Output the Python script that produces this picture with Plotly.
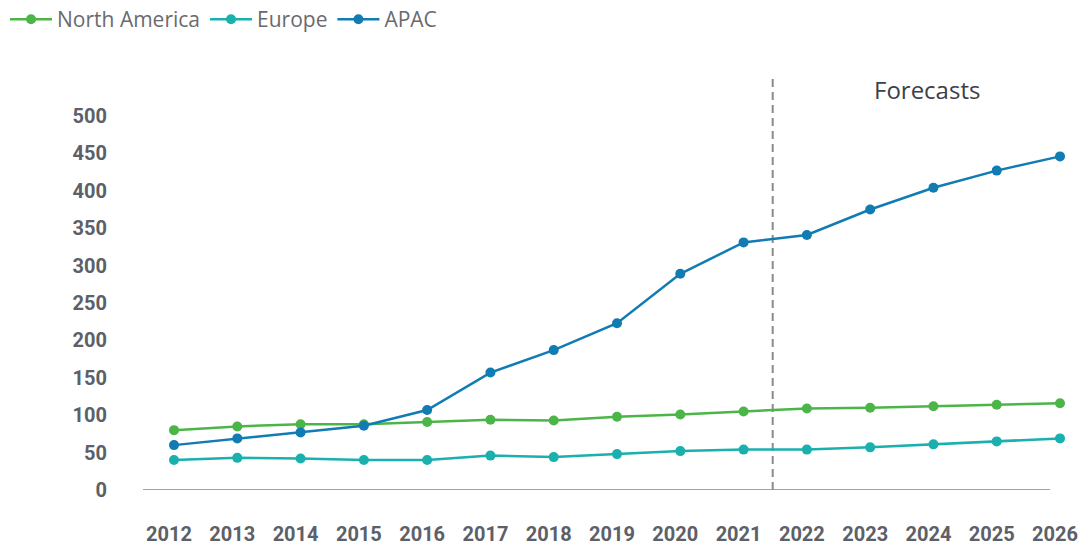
import plotly.graph_objects as go

years = [2012, 2013, 2014, 2015, 2016, 2017, 2018, 2019, 2020, 2021, 2022, 2023, 2024, 2025, 2026]
north_america = [80, 85, 88, 88, 91, 94, 93, 98, 101, 105, 109, 110, 112, 114, 116]
europe = [40, 43, 42, 40, 40, 46, 44, 48, 52, 54, 54, 57, 61, 65, 69]
apac = [60, 69, 77, 86, 107, 157, 187, 223, 289, 331, 341, 375, 404, 427, 446]
y_ticks = [0, 50, 100, 150, 200, 250, 300, 350, 400, 450, 500]
forecast_start = 2021.46
forecast_label = "Forecasts"

series = [
    ("North America", north_america, "#4cb548"),
    ("Europe", europe, "#19b0ad"),
    ("APAC", apac, "#117bb3"),
]

fig = go.Figure()
for name, vals, color in series:
    fig.add_trace(go.Scatter(
        x=years, y=vals, name=name, mode="lines+markers",
        line=dict(color=color, width=2.5),
        marker=dict(color=color, size=10),
    ))

tick_font = dict(family="Roboto", size=20, color="#5c6068", weight="bold")

fig.update_layout(
    width=1079, height=545,
    margin=dict(l=143, r=0, t=78, b=55, autoexpand=False),
    paper_bgcolor="white", plot_bgcolor="white",
    showlegend=True,
    legend=dict(orientation="h", xref="paper", yref="paper",
                x=-0.1474, y=1.1915, xanchor="left", yanchor="top",
                font=dict(family="Open Sans", size=21, color="#6a6a6e"),
                itemwidth=42, tracegroupgap=0),
    xaxis=dict(range=[2011.51, 2026.3], tickvals=years, ticktext=[str(y) for y in years],
               showgrid=False, zeroline=False, showline=False, ticks="", automargin=False,
               tickfont=tick_font, ticklabelstandoff=30, ticklabelshift=-5,
               ticklabeloverflow="allow"),
    yaxis=dict(range=[0, 550.8], tickvals=y_ticks, showgrid=False, zeroline=False,
               showline=False, ticks="", tickfont=tick_font, ticklabelstandoff=35,
               automargin=False),
    shapes=[
        dict(type="line", xref="paper", yref="y", x0=0, x1=907 / 936, y0=0, y1=0,
             line=dict(color="#858585", width=1.5), layer="below"),
        dict(type="line", xref="x", yref="paper", x0=forecast_start, x1=forecast_start, y0=0, y1=1,
             line=dict(color="#8a8a8a", width=2, dash="8px,5px"), layer="below"),
    ],
    annotations=[
        dict(text=forecast_label, x=2023.9, y=535, xref="x", yref="y", showarrow=False,
             font=dict(family="Open Sans", size=24, color="#3c3f48")),
    ],
)

# remove the default page margin so the figure fills the 1079x545 window exactly
fig.write_html("out.html", config={"displayModeBar": False},
               post_script="document.body.style.margin='0';document.body.style.overflow='hidden';")
